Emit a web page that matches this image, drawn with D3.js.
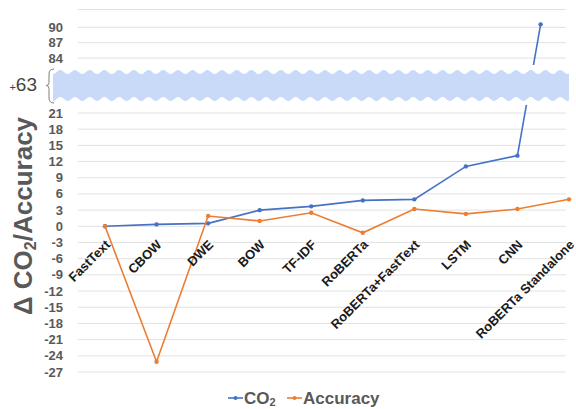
<!DOCTYPE html>
<html><head><meta charset="utf-8">
<script src="https://cdn.jsdelivr.net/npm/d3@7"></script>
<style>body{margin:0;background:#fff}svg{display:block}</style>
</head><body>
<svg id="c" width="576" height="409"></svg>
<script>
const categories = ["FastText","CBOW","DWE","BOW","TF-IDF","RoBERTa","RoBERTa+FastText","LSTM","CNN","RoBERTa Standalone"];
const co2Values = [0, 0.35, 0.55, 3.0, 3.7, 4.8, 5.0, 11.1, 13.1, 90.5];
const co2Slots = [0, 1, 2, 3, 4, 5, 6, 7, 8, 8.45];
const accuracyValues = [0, -25.1, 1.9, 1.0, 2.5, -1.2, 3.2, 2.3, 3.2, 5.0];
const accuracySlots = [0, 1, 2, 3, 4, 5, 6, 7, 8, 9];
const yTickLabels = [-27,-24,-21,-18,-15,-12,-9,-6,-3,0,3,6,9,12,15,18,21,84,87,90];
const yGridValues = yTickLabels.concat([93]);
const breakLabel = "63";
const yTitle = ["Δ CO", "2", "/Accuracy"];
const legendNames = [["CO","2"],["Accuracy",""]];

const blue = "#4472C4", orange = "#ED7D31", gray = "#595959";
const svg = d3.select("#c");
const font = "'Liberation Sans', Arial, sans-serif";

const x = d3.scaleLinear().domain([0, 9]).range([105, 569]);
const y = d3.scaleLinear().domain([-27, 21, 84, 90, 93]).range([372, 113, 58, 27.3, 9.5]);

// gridlines
svg.append("g").selectAll("line").data(yGridValues).join("line")
  .attr("x1", 78).attr("x2", 566)
  .attr("y1", d => y(d)).attr("y2", d => y(d))
  .attr("stroke", "#e2e2e2").attr("stroke-width", 1);

// y tick labels
svg.append("g").selectAll("text").data(yTickLabels).join("text")
  .attr("x", 63).attr("y", d => y(d)).attr("dy", "0.35em")
  .attr("text-anchor", "end")
  .attr("font-family", font).attr("font-weight", "bold").attr("font-size", 13)
  .attr("fill", gray).text(d => d);

// lines
function series(vals, slots, color) {
  const pts = vals.map((v, i) => [x(slots[i]), y(v)]);
  svg.append("path").attr("d", d3.line()(pts))
    .attr("fill", "none").attr("stroke", color).attr("stroke-width", 1.6);
  svg.append("g").selectAll("circle").data(pts).join("circle")
    .attr("cx", d => d[0]).attr("cy", d => d[1]).attr("r", 2.2).attr("fill", color);
}
series(co2Values, co2Slots, blue);
series(accuracyValues, accuracySlots, orange);

// break band
const bTop = (y(21) + y(84)) / 2 - 13.5, bBot = (y(21) + y(84)) / 2 + 13.5;
svg.append("rect").attr("x", 55).attr("y", bTop - 7).attr("width", 521).attr("height", bBot - bTop + 13).attr("fill", "#fff");
const period = 14.7, amp = 2;
const topPts = d3.range(53, 570, 1).map(px => [px, bTop + amp * Math.cos(2 * Math.PI * (px - 53) / period)]);
const botPts = d3.range(569, 52, -1).map(px => [px, bBot + amp * Math.cos(2 * Math.PI * (px - 53) / period)]);
svg.append("path").attr("d", d3.line()(topPts.concat(botPts)) + "Z").attr("fill", "#c9daf8");
// brace
const bm = (bTop + bBot) / 2;
svg.append("path")
  .attr("d", `M54,${bTop-3} Q49,${bTop-3} 49,${bTop+2} L49,${bm-3} Q49,${bm} 46,${bm} Q49,${bm} 49,${bm+3} L49,${bBot-1} Q49,${bBot+4} 54,${bBot+4}`)
  .attr("fill", "none").attr("stroke", "#7f7f7f").attr("stroke-width", 1);
const bl = svg.append("text").attr("x", 37).attr("y", bm).attr("dy", "0.36em").attr("text-anchor", "end")
  .attr("font-family", font).attr("fill", "#444");
bl.append("tspan").attr("font-size", 11).text("+");
bl.append("tspan").attr("font-size", 19).text(breakLabel);

// x labels
svg.append("g").selectAll("text").data(categories).join("text")
  .attr("transform", (d, i) => `translate(${x(i) + 6},${y(-3) + 3}) rotate(-45)`)
  .attr("text-anchor", "end")
  .attr("font-family", font).attr("font-weight", "bold").attr("font-size", 13)
  .attr("fill", "#1a1a1a").text(d => d);

// y title
const yt = svg.append("text").attr("transform", "translate(32,216) rotate(-90)")
  .attr("text-anchor", "middle").attr("font-family", font).attr("font-weight", "bold")
  .attr("font-size", 26).attr("fill", gray);
yt.append("tspan").text(yTitle[0]);
yt.append("tspan").attr("font-size", 16).attr("dy", 4).text(yTitle[1]);
yt.append("tspan").attr("dy", -4).text(yTitle[2]);

// legend
const legendColors = [blue, orange];
const legendX = [228, 287];
legendNames.forEach((nm, i) => {
  const lx = legendX[i], ly = 398;
  svg.append("line").attr("x1", lx).attr("x2", lx + 15).attr("y1", ly).attr("y2", ly)
    .attr("stroke", legendColors[i]).attr("stroke-width", 1.6);
  svg.append("circle").attr("cx", lx + 7.5).attr("cy", ly).attr("r", 2).attr("fill", legendColors[i]);
  const t = svg.append("text").attr("x", lx + 16).attr("y", ly).attr("dy", "0.36em")
    .attr("font-family", font).attr("font-weight", "bold").attr("font-size", 17).attr("fill", gray);
  t.append("tspan").text(nm[0]);
  if (nm[1]) t.append("tspan").attr("font-size", 11).attr("dy", 2).text(nm[1]);
});
</script>
</body></html>
